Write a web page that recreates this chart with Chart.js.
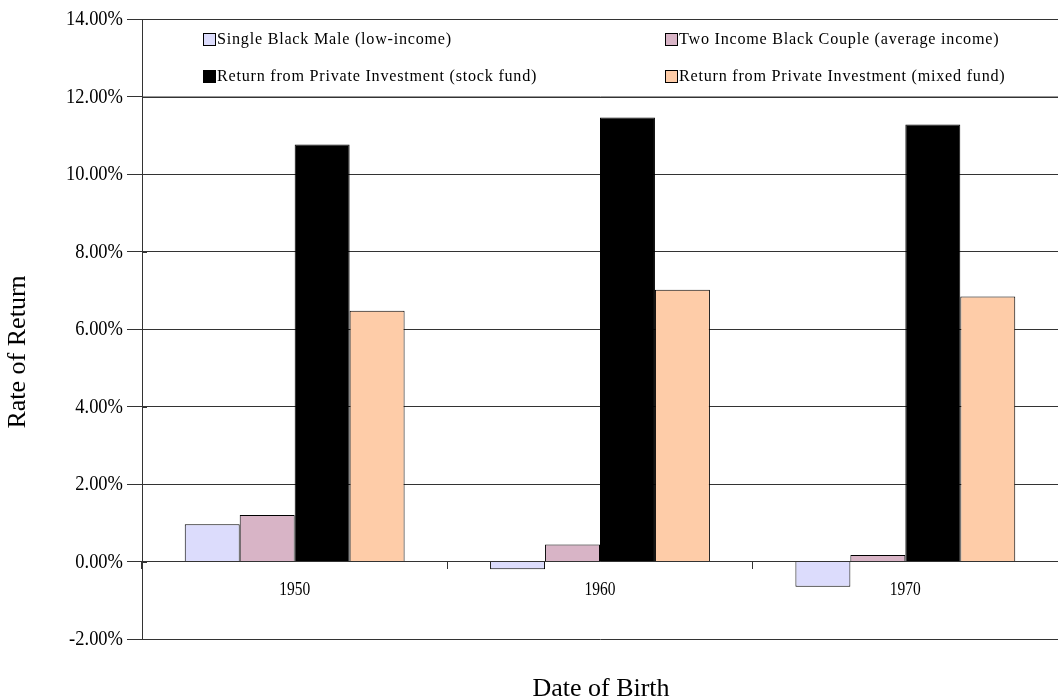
<!DOCTYPE html>
<html>
<head>
<meta charset="utf-8">
<script src="https://cdn.jsdelivr.net/npm/chart.js@4.4.1/dist/chart.umd.min.js"></script>
<style>
  html, body { margin: 0; padding: 0; background: #fff; }
  #wrap { width: 1058px; height: 700px; position: relative; }
</style>
</head>
<body>
<div id="wrap"><canvas id="c" width="1058" height="700"></canvas></div>
<script>
const categories = ['1950', '1960', '1970'];
const singleBlackMale = [0.96, -0.20, -0.65];
const twoIncomeCouple = [1.20, 0.44, 0.17];
const stockFund = [10.76, 11.46, 11.28];
const mixedFund = [6.47, 7.01, 6.84];
const seriesLabels = [
  'Single Black Male (low-income)',
  'Two Income Black Couple (average income)',
  'Return from Private Investment (stock fund)',
  'Return from Private Investment (mixed fund)'
];
const yTickValues = [-2, 0, 2, 4, 6, 8, 10, 12, 14];
const yTitle = 'Rate of Return';
const xTitle = 'Date of Birth';

const SERIF = '"Liberation Serif", "Times New Roman", serif';
const GRID = '#333333';

function drawText(ctx, text, x, y, size, sx, align, ls) {
  ctx.save();
  ctx.font = size + 'px ' + SERIF;
  ctx.letterSpacing = (ls || 0) + 'px';
  ctx.textBaseline = 'middle';
  ctx.textAlign = 'left';
  const w = ctx.measureText(text).width * sx;
  let x0 = x;
  if (align === 'center') x0 = x - w / 2;
  else if (align === 'right') x0 = x - w;
  ctx.translate(x0, y);
  ctx.scale(sx, 1);
  ctx.fillText(text, 0, 0);
  ctx.restore();
}

const textAndLegend = {
  id: 'textAndLegend',
  afterDraw(chart) {
    const ctx = chart.ctx;
    const ys = chart.scales.y;
    const xs = chart.scales.x;
    const area = chart.chartArea;
    ctx.save();
    ctx.fillStyle = '#000';
    ys.ticks.forEach(t => {
      const py = Math.round(ys.getPixelForValue(t.value)) + 0.5;
      drawText(ctx, Number(t.value).toFixed(2) + '%', area.left - 19, py, 21, 0.88, 'right', 0);
      ctx.strokeStyle = GRID;
      ctx.lineWidth = 1;
      ctx.beginPath();
      ctx.moveTo(area.left, py);
      ctx.lineTo(area.left + 5, py);
      ctx.stroke();
    });
    const zeroY = ys.getPixelForValue(0);
    categories.forEach((c, i) => {
      drawText(ctx, c, xs.getPixelForValue(i), zeroY + 29, 18, 0.86, 'center', 0);
    });
    const top = ys.getPixelForValue(14);
    const bot = ys.getPixelForValue(12);
    const w = area.right - area.left;
    ctx.fillStyle = '#fff';
    ctx.fillRect(area.left + 1, top + 1, w, bot - top - 1);
    ctx.strokeStyle = GRID;
    ctx.lineWidth = 1;
    ctx.strokeRect(Math.round(area.left) + 0.5, Math.round(top) + 0.5, Math.round(w), Math.round(bot - top));
    const colX = [area.left + w * 0.0662, area.left + w * 0.5705];
    const rowY = [top + (bot - top) * 0.256, top + (bot - top) * 0.731];
    chart.data.datasets.forEach((ds, i) => {
      const cx = Math.round(colX[i % 2]);
      const cy = Math.round(rowY[Math.floor(i / 2)]);
      ctx.fillStyle = ds.backgroundColor;
      ctx.fillRect(cx + 0.5, cy - 6 + 0.5, 12, 12);
      ctx.strokeStyle = '#000';
      ctx.strokeRect(cx + 0.5, cy - 6 + 0.5, 12, 12);
      ctx.fillStyle = '#000';
      drawText(ctx, ds.label, cx + 14, cy + 1, 17, 0.95, 'left', 0.8);
    });
    drawText(ctx, xTitle, 601, 689, 26, 1, 'center', 0);
    ctx.save();
    ctx.translate(18, 352);
    ctx.rotate(-Math.PI / 2);
    drawText(ctx, yTitle, 0, 0, 26, 1, 'center', 0);
    ctx.restore();
    ctx.restore();
  }
};

new Chart(document.getElementById('c'), {
  type: 'bar',
  data: {
    labels: categories,
    datasets: [
      { label: seriesLabels[0], data: singleBlackMale, backgroundColor: '#dcdcfc' },
      { label: seriesLabels[1], data: twoIncomeCouple, backgroundColor: '#d8b4c6' },
      { label: seriesLabels[2], data: stockFund, backgroundColor: '#000000' },
      { label: seriesLabels[3], data: mixedFund, backgroundColor: '#fecca8' }
    ].map(d => Object.assign(d, { borderColor: '#000', borderWidth: 1, categoryPercentage: 0.72, barPercentage: 1.0 }))
  },
  options: {
    responsive: false,
    animation: false,
    devicePixelRatio: 1,
    layout: { padding: { top: 19, right: -5, bottom: 61, left: 0 } },
    plugins: { legend: { display: false }, tooltip: { enabled: false }, title: { display: false } },
    scales: {
      x: {
        type: 'category',
        position: { y: 0 },
        grid: { display: true, drawOnChartArea: false, drawTicks: true, tickLength: 7, color: GRID, offset: true },
        border: { display: true, color: GRID, width: 1 },
        ticks: { display: false }
      },
      y: {
        min: -2, max: 14,
        afterFit(scale) { scale.width = 142; },
        afterBuildTicks(scale) { scale.ticks = yTickValues.map(v => ({ value: v })); },
        grid: { color: GRID, lineWidth: 1, tickLength: 15, drawTicks: true },
        border: { display: true, color: GRID, width: 1 },
        ticks: { display: false }
      }
    }
  },
  plugins: [textAndLegend]
});
</script>
</body>
</html>
